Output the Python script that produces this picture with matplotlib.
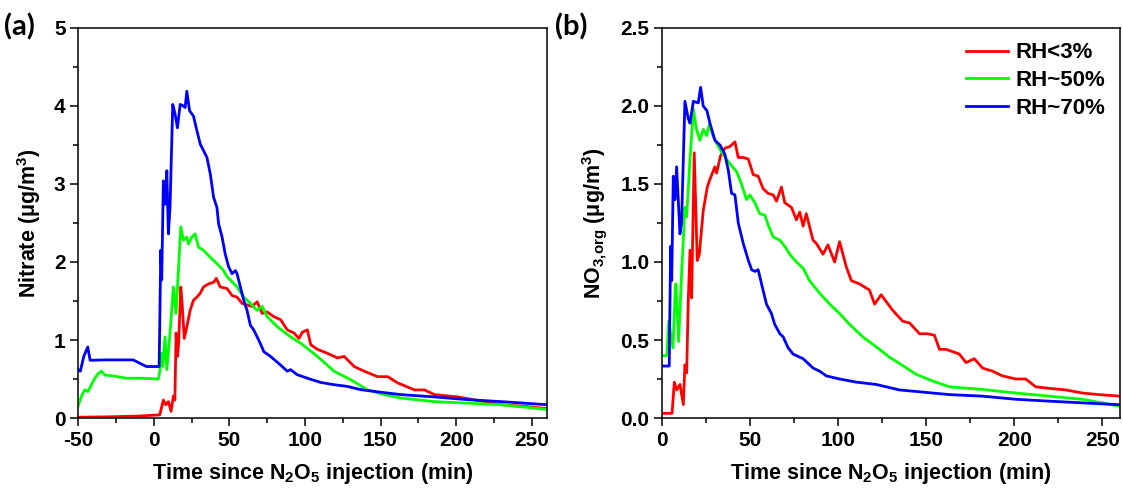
import matplotlib
matplotlib.use('Agg')
import matplotlib.pyplot as plt
from matplotlib.ticker import MultipleLocator
import numpy as np

plt.rcParams['font.family'] = ['Liberation Sans', 'DejaVu Sans']
plt.rcParams['font.weight'] = 'bold'
plt.rcParams['axes.unicode_minus'] = False
plt.rcParams['mathtext.fontset'] = 'custom'
plt.rcParams['mathtext.bf'] = 'Liberation Sans:bold'
plt.rcParams['mathtext.rm'] = 'Liberation Sans:bold'
plt.rcParams['mathtext.default'] = 'bf'

labels = ['RH<3%', 'RH~50%', 'RH~70%']
colors = ['#ff0000', '#00ff00', '#0000ff']

# panel (a): total nitrate, (time [min], ug/m3)
nitrate_red = [(-50, 0.01), (-30, 0.015), (-10, 0.025), (4, 0.04), (6.4, 0.23), (8, 0.17), (9.7, 0.21),
               (11.5, 0.085), (13, 0.28), (14, 0.23), (14.8, 1.09), (15.7, 0.79), (16.5, 0.96), (17.9, 1.68),
               (18.8, 1.47), (20.2, 1.02), (21.9, 1.17), (24.1, 1.38), (26.3, 1.51), (28.6, 1.55), (30.8, 1.6),
               (32.9, 1.68), (36.3, 1.72), (39.6, 1.74), (41.4, 1.79), (44, 1.68), (48.5, 1.66), (51.8, 1.57),
               (55.1, 1.55), (58.4, 1.47), (61.7, 1.45), (65, 1.43), (68.4, 1.49), (71.7, 1.34), (75, 1.36),
               (79.4, 1.3), (83.9, 1.26), (88.3, 1.13), (92.7, 1.09), (96, 1.02), (98.3, 1.1), (101.6, 1.13),
               (103.8, 0.94), (108.2, 0.88), (114.8, 0.83), (121.5, 0.77), (125.9, 0.79), (132.5, 0.66),
               (139.2, 0.6), (148, 0.53), (154.7, 0.53), (161.3, 0.45), (172.4, 0.36), (179, 0.36),
               (185.6, 0.3), (201.1, 0.27), (218.8, 0.21), (229.8, 0.17), (245, 0.15), (260, 0.12)]
nitrate_green = [(-50, 0.15), (-47.7, 0.28), (-45.6, 0.36), (-43.4, 0.34), (-41.1, 0.43), (-38.9, 0.51),
                 (-36.7, 0.57), (-34.5, 0.6), (-32.3, 0.55), (-26.8, 0.54), (-17.9, 0.51), (-9.1, 0.51),
                 (3.1, 0.5), (4.2, 0.62), (5.3, 0.83), (6.0, 0.66), (7.5, 1.04), (8.7, 0.62), (10.8, 1.09),
                 (13.0, 1.68), (14.8, 1.34), (17.9, 2.45), (19.7, 2.28), (21.9, 2.32), (23.0, 2.23),
                 (25.2, 2.32), (27.4, 2.36), (29.6, 2.19), (32.9, 2.15), (37.4, 2.06), (41.8, 1.98),
                 (46.2, 1.89), (48.5, 1.81), (50.7, 1.77), (55.1, 1.68), (59.5, 1.55), (63.9, 1.47),
                 (68.4, 1.38), (71.7, 1.43), (75.0, 1.3), (81.7, 1.17), (90.5, 1.04), (97.1, 0.96),
                 (108.2, 0.79), (119.2, 0.6), (130.3, 0.49), (141.4, 0.36), (152.4, 0.3), (163.5, 0.256),
                 (185.6, 0.21), (207.7, 0.19), (229.8, 0.17), (245, 0.14), (260, 0.11)]
nitrate_blue = [(-50, 0.62), (-48.5, 0.6), (-46.2, 0.79), (-43.6, 0.91), (-42, 0.74), (-32, 0.745),
                (-13.6, 0.745), (-4.8, 0.66), (3.6, 0.66), (4.7, 2.15), (5.3, 1.77), (6.4, 3.04), (7.5, 2.74),
                (8.7, 3.17), (9.7, 2.36), (10.8, 2.7), (12.6, 4.02), (14.1, 3.9), (15.7, 3.72), (17.5, 4.02),
                (19.7, 4.0), (20.8, 3.98), (21.9, 4.19), (23.7, 3.94), (26.3, 3.87), (28.6, 3.68), (30.8, 3.51),
                (32.9, 3.43), (35.2, 3.34), (37.4, 3.13), (39.6, 2.83), (41.8, 2.7), (42.9, 2.49), (45.2, 2.32),
                (47.3, 2.1), (49.5, 1.94), (51.8, 1.85), (54.0, 1.89), (55.1, 1.85), (57.3, 1.68), (59.5, 1.51),
                (61.7, 1.38), (63.9, 1.19), (66.1, 1.13), (68.4, 1.04), (70.6, 0.95), (72.8, 0.85), (77.2, 0.79),
                (83.8, 0.68), (88.3, 0.6), (90.5, 0.62), (94.9, 0.555), (101.6, 0.51), (110.4, 0.456),
                (119.2, 0.427), (128.1, 0.405), (137, 0.363), (150.2, 0.33), (163.5, 0.3), (185.6, 0.27),
                (207.7, 0.235), (229.8, 0.21), (245, 0.19), (260, 0.17)]

# panel (b): organic nitrate
org_red = [(0, 0.03), (5.7, 0.03), (7.0, 0.23), (8.3, 0.18), (10.2, 0.215), (12.1, 0.086), (13, 0.34),
           (14, 0.29), (14.9, 0.75), (15.9, 1.075), (16.8, 0.77), (18.3, 1.7), (20, 1.01), (21.2, 1.05),
           (23.4, 1.33), (25.7, 1.48), (27.2, 1.53), (30, 1.61), (31, 1.57), (33.2, 1.68), (35.7, 1.73),
           (38.5, 1.74), (41.4, 1.77), (43.3, 1.67), (46.1, 1.67), (49, 1.66), (51.8, 1.56), (54.6, 1.55),
           (57.4, 1.47), (60.2, 1.44), (63.1, 1.43), (65, 1.39), (67.8, 1.48), (69.7, 1.38), (73.5, 1.35),
           (76.3, 1.27), (78.2, 1.32), (80.1, 1.23), (81.9, 1.31), (85.7, 1.14), (87.6, 1.12), (91.4, 1.05),
           (94.2, 1.11), (98, 1.0), (100.8, 1.13), (104.6, 0.97), (107.5, 0.88), (112.1, 0.86), (117.8, 0.82),
           (120.7, 0.73), (124.4, 0.79), (131, 0.69), (136.7, 0.62), (140.5, 0.61), (146.2, 0.54),
           (150.9, 0.54), (154.7, 0.53), (157.5, 0.44), (161.3, 0.44), (168.8, 0.41), (172.6, 0.355),
           (177.3, 0.38), (182, 0.32), (187.7, 0.3), (193.3, 0.27), (200.9, 0.25), (206.5, 0.25),
           (212.2, 0.2), (219.8, 0.19), (229.2, 0.18), (238.7, 0.16), (248, 0.15), (260, 0.14)]
org_green = [(0, 0.4), (2.8, 0.4), (3.8, 0.62), (6.2, 0.45), (7.6, 0.84), (7.9, 0.86), (9.4, 0.49),
             (11.1, 0.92), (13, 1.35), (14, 1.29), (15.9, 1.66), (17.8, 1.98), (19.6, 1.85), (21.5, 1.78),
             (23.4, 1.85), (25.3, 1.81), (26.8, 1.88), (29, 1.81), (31.9, 1.74), (34.7, 1.69), (38.5, 1.63),
             (42.3, 1.58), (45.1, 1.5), (48, 1.4), (49.9, 1.43), (52.7, 1.38), (55.5, 1.31), (58.4, 1.3),
             (60.2, 1.24), (63.1, 1.16), (66.9, 1.14), (69.7, 1.1), (72.5, 1.05), (76.3, 1.0), (80.1, 0.96),
             (83.8, 0.88), (89.5, 0.8), (95.2, 0.73), (100.8, 0.67), (106.5, 0.6), (114, 0.52), (123.5, 0.44),
             (129.1, 0.39), (134.8, 0.35), (144.3, 0.28), (153.7, 0.237), (163.2, 0.2), (182, 0.183),
             (200.9, 0.16), (219.8, 0.14), (238.7, 0.12), (255.7, 0.085), (260, 0.075)]
org_blue = [(0, 0.333), (4.1, 0.333), (4.9, 1.1), (5.5, 0.88), (6.4, 1.55), (7.4, 1.4), (8.3, 1.61),
            (10.2, 1.18), (11.1, 1.25), (13, 2.03), (14.9, 1.92), (15.9, 1.89), (17.8, 2.03), (20.6, 2.02),
            (21.9, 2.12), (23.4, 2.0), (25.5, 1.97), (27.2, 1.89), (30, 1.78), (32.9, 1.75), (35.7, 1.69),
            (37.6, 1.59), (39.5, 1.44), (41.4, 1.43), (43.3, 1.25), (46.1, 1.12), (49, 1.01), (50.9, 0.95),
            (52.7, 0.94), (54.6, 0.95), (56.5, 0.86), (59.3, 0.73), (62.1, 0.67), (64, 0.6), (66.9, 0.54),
            (68.8, 0.52), (71.6, 0.45), (74.4, 0.41), (80.1, 0.38), (85.8, 0.32), (89.5, 0.3), (93.3, 0.27),
            (100.8, 0.25), (110.3, 0.23), (121.6, 0.215), (134.8, 0.18), (144.3, 0.17), (163.2, 0.15),
            (182, 0.14), (200.9, 0.12), (219.8, 0.108), (238.7, 0.097), (260, 0.085)]

fig = plt.figure(figsize=(11.23, 4.92), dpi=100)
ax1 = fig.add_axes([0.0695, 0.1504, 0.4176, 0.7927])
ax2 = fig.add_axes([0.5895, 0.1504, 0.4078, 0.7927])

for ax, series in [(ax1, [nitrate_red, nitrate_green, nitrate_blue]),
                   (ax2, [org_red, org_green, org_blue])]:
    for s, c, lab in zip(series, colors, labels):
        d = np.array(s)
        ax.plot(d[:, 0], d[:, 1], color=c, lw=2, label=lab)
    ax.xaxis.set_major_locator(MultipleLocator(50))
    ax.xaxis.set_minor_locator(MultipleLocator(25))
    ax.tick_params(which='major', length=6, width=1.1, labelsize=15, pad=3)
    ax.tick_params(which='minor', length=3.5, width=1.1)
    ax.tick_params(which='both', top=False, right=False)
    for sp in ax.spines.values():
        sp.set_linewidth(1.1)
    ax.set_xlabel(r'Time since N$_2$O$_5$ injection (min)', fontsize=15.5, fontweight='bold', labelpad=8)

ax1.set_xlim(-50, 260)
ax1.set_ylim(0, 5)
ax1.yaxis.set_major_locator(MultipleLocator(1))
ax1.yaxis.set_minor_locator(MultipleLocator(0.5))
ax1.set_ylabel('Nitrate (μg/m$^3$)', fontsize=15.5, fontweight='bold', labelpad=8)

ax2.set_xlim(0, 260)
ax2.set_ylim(0, 2.5)
ax2.yaxis.set_major_locator(MultipleLocator(0.5))
ax2.yaxis.set_minor_locator(MultipleLocator(0.25))
ax2.yaxis.set_major_formatter(plt.FormatStrFormatter('%.1f'))
ax2.set_ylabel('NO$_{3{,}org}$ (μg/m$^3$)', fontsize=15.5, fontweight='bold', labelpad=8)

for ax in (ax1, ax2):
    for t in ax.get_xticklabels() + ax.get_yticklabels():
        t.set_fontweight('bold')

ax2.legend(loc='upper right', frameon=False, fontsize=16, handlelength=1.9,
           handletextpad=0.35, labelspacing=0.3, borderaxespad=0.25)

fig.text(0.004, 0.945, '(a)', family=['Lato', 'DejaVu Sans'], fontweight='bold', fontsize=21, va='center')
fig.text(0.494, 0.945, '(b)', family=['Lato', 'DejaVu Sans'], fontweight='bold', fontsize=21, va='center')

fig.savefig('out.png', dpi=100)
